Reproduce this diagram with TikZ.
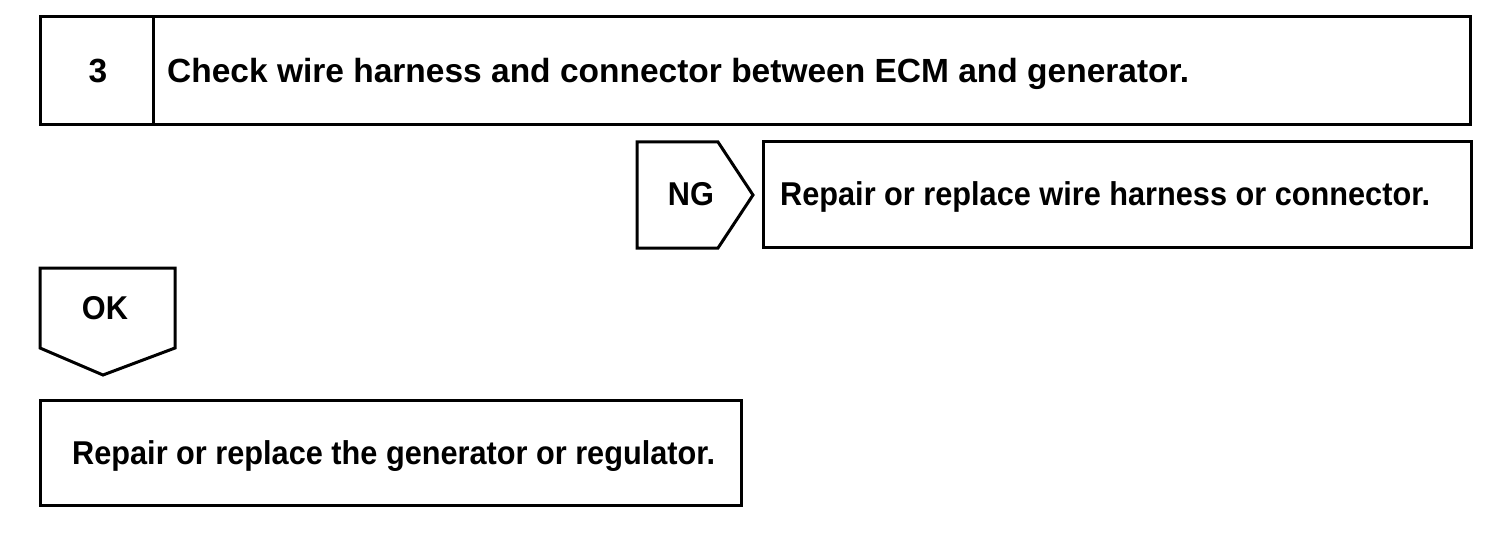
\documentclass[tikz,border=0pt]{standalone}
\usepackage{fontspec}
\setmainfont{Liberation Sans}
\newfontfamily\condfont[FakeStretch=0.93]{Liberation Sans}
\begin{document}
\begin{tikzpicture}[x=1pt,y=-1pt,
  box/.style={draw=black, line width=3pt},
  lbl/.style={font=\condfont\bfseries\fontsize{33}{38}\selectfont, inner sep=0pt},
  lblbig/.style={font=\bfseries\fontsize{33.5}{38}\selectfont, inner sep=0pt}]
\useasboundingbox (0,0) rectangle (1504,540);
% step 3 header
\draw[box] (40,17) rectangle (1470,125);
\draw[box] (153,17) -- (153,125);
\node[lblbig, anchor=base] (num) at (98,83) {3};
\node[lblbig, anchor=base west] (title) at (167,83) {Check wire harness and connector between ECM and generator.};
% NG branch
\draw[box] (637,142) -- (718,142) -- (753,195) -- (718,248) -- (637,248) -- cycle;
\node[lbl, anchor=base] (ng) at (691,206) {NG};
\draw[box] (763,142) rectangle (1471,247);
\node[lbl, anchor=base west] (ngact) at (780,206) {Repair or replace wire harness or connector.};
% OK branch
\draw[box] (40,268) -- (175,268) -- (175,348) -- (103,375) -- (40,348) -- cycle;
\node[lbl, anchor=base] (ok) at (105,319) {OK};
\draw[box] (40,400) rectangle (741,505);
\node[lbl, anchor=base west] (okact) at (72,464) {Repair or replace the generator or regulator.};
\end{tikzpicture}
\end{document}
